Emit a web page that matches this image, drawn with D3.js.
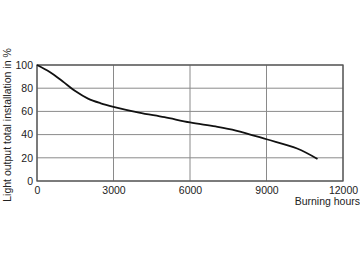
<!DOCTYPE html>
<html>
<head>
<meta charset="utf-8">
<script src="https://cdn.jsdelivr.net/npm/d3@7"></script>
<style>
    body { margin: 0; background: #fff; }
    text { font-family: "Liberation Sans", Arial, sans-serif; font-size: 10.5px; fill: #222; }
</style>
</head>
<body>
<div id="chart"></div>
<script>
// burning hours vs light output (%)
var hours = [0, 500, 1000, 1500, 2000, 2500, 3000, 4000, 5000, 6000, 7000, 7800, 9000, 10200, 11000];
var output = [100, 94, 86, 77.5, 71, 67, 64, 59, 55, 50.5, 47, 43.5, 36, 28, 19];
var xTicks = [0, 3000, 6000, 9000, 12000];
var yTicks = [0, 20, 40, 60, 80, 100];

var margin = {top: 65, right: 17, bottom: 81, left: 37},
    width = 360 - margin.left - margin.right,
    height = 262 - margin.top - margin.bottom;

var svg = d3.select("#chart")
    .append("svg")
    .attr("width", 360)
    .attr("height", 262)
    .append("g")
    .attr("transform", "translate(" + margin.left + "," + margin.top + ")");

var xScale = d3.scaleLinear().domain([0, 12000]).range([0, width]);
var yScale = d3.scaleLinear().domain([0, 100]).range([height, 0]);

// grid
svg.append("g")
    .selectAll("line.vg")
    .data(xTicks)
    .enter()
    .append("line")
    .attr("x1", function(d){ return xScale(d); })
    .attr("x2", function(d){ return xScale(d); })
    .attr("y1", 0)
    .attr("y2", height)
    .style("stroke", "#8a8a8a")
    .style("stroke-width", 1);

svg.append("g")
    .selectAll("line.hg")
    .data(yTicks)
    .enter()
    .append("line")
    .attr("x1", 0)
    .attr("x2", width)
    .attr("y1", function(d){ return yScale(d); })
    .attr("y2", function(d){ return yScale(d); })
    .style("stroke", "#8a8a8a")
    .style("stroke-width", 1);

svg.append("rect")
    .attr("width", width)
    .attr("height", height)
    .style("fill", "none")
    .style("stroke", "#555")
    .style("stroke-width", 1.3);

// axes (labels only)
svg.append("g")
    .attr("transform", "translate(0," + height + ")")
    .call(d3.axisBottom(xScale).tickValues(xTicks).tickFormat(d3.format("d")).tickSize(0).tickPadding(6));

svg.append("g")
    .call(d3.axisLeft(yScale).tickValues(yTicks).tickFormat(d3.format("d")).tickSize(0).tickPadding(4));

svg.selectAll(".domain").remove();
svg.selectAll(".tick text").style("font-size", "10.5px").style("fill", "#222")
    .style("font-family", "\"Liberation Sans\", Arial, sans-serif");

svg.append("text")
    .attr("x", width + 17)
    .attr("y", height + 24)
    .attr("text-anchor", "end")
    .text("Burning hours");

svg.append("text")
    .attr("transform", "translate(-26," + (height / 2 + 2) + ") rotate(-90)")
    .attr("text-anchor", "middle")
    .text("Light output total installation in %");

// curve
var line = d3.line()
    .x(function(d, i){ return xScale(hours[i]); })
    .y(function(d){ return yScale(d); })
    .curve(d3.curveCatmullRom.alpha(0.5));

svg.append("path")
    .datum(output)
    .attr("d", line)
    .style("fill", "none")
    .style("stroke", "#111")
    .style("stroke-width", 1.8);
</script>
</body>
</html>
